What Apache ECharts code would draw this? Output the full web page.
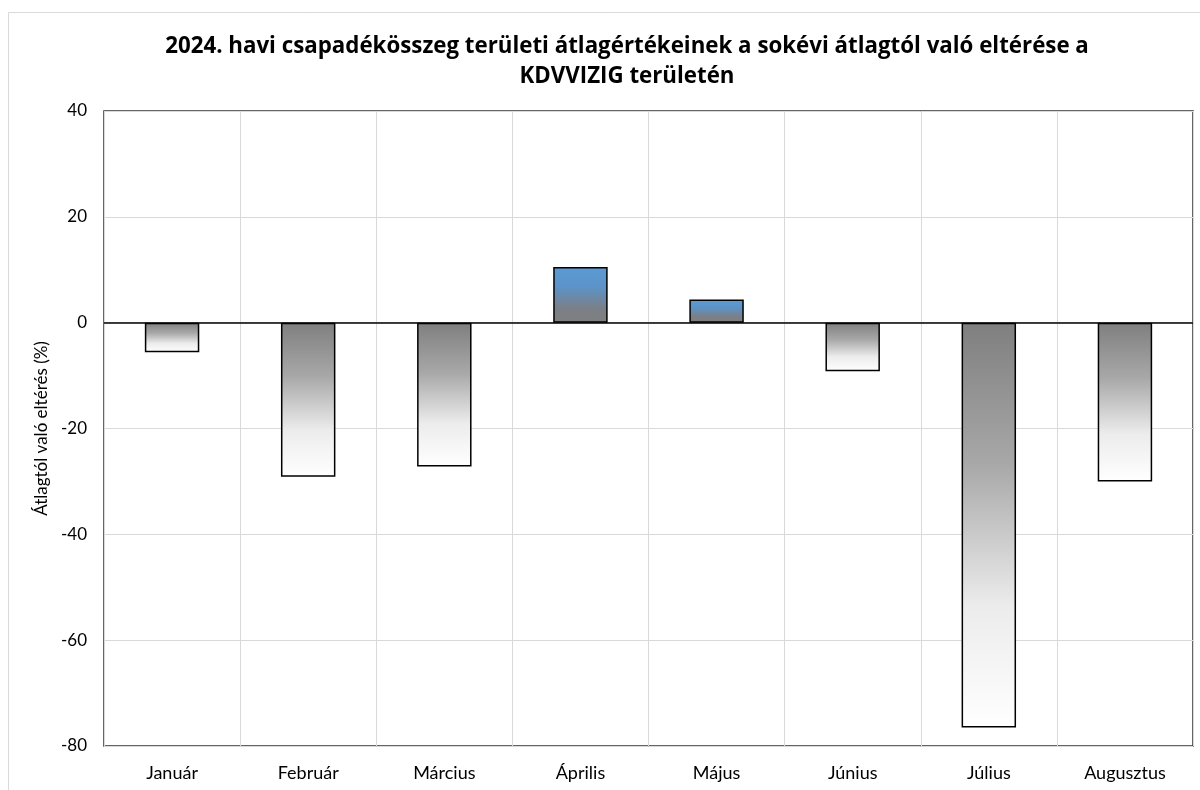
<!DOCTYPE html>
<html><head><meta charset="utf-8">
<script src="https://cdn.jsdelivr.net/npm/echarts@6/dist/echarts.min.js"></script>
<style>html,body{margin:0;padding:0;background:#fff}#c{width:1200px;height:790px}</style>
</head><body><div id="c"></div>
<script>
const categories = ['Január','Február','Március','Április','Május','Június','Július','Augusztus'];
const values = [-5.6, -29.1, -27.2, 10.5, 4.4, -9.2, -76.5, -30.0];
const yTicks = {min: -80, max: 40, interval: 20};
const titleText = '2024. havi csapadékösszeg területi átlagértékeinek a sokévi átlagtól való eltérése a\nKDVVIZIG területén';
const yAxisName = 'Átlagtól való eltérés (%)';

const font = 'Lato, "Open Sans", sans-serif';
const negGrad = new echarts.graphic.LinearGradient(0,0,0,1,[
  {offset:0,color:'#7f7f7f'},{offset:0.35,color:'#a8a8a8'},{offset:0.7,color:'#ececec'},{offset:1,color:'#ffffff'}]);
const posGrad = new echarts.graphic.LinearGradient(0,0,0,1,[
  {offset:0,color:'#5b9bd5'},{offset:0.35,color:'#5c93c8'},{offset:0.75,color:'#7b7f86'},{offset:1,color:'#7f7f7f'}]);

const chart = echarts.init(document.getElementById('c'), null, {renderer:'canvas'});
chart.setOption({
  backgroundColor:'#fff',
  animation:false,
  title:{text:titleText,left:622,textAlign:'center',top:27,
    textStyle:{fontFamily:'"Open Sans", Lato, sans-serif',fontWeight:'bold',fontSize:22.3,color:'#000',lineHeight:30}},
  graphic:[{type:'rect',shape:{x:8.5,y:12.5,width:1200,height:800},style:{fill:'none',stroke:'#d9d9d9',lineWidth:1},z:-10}],
  grid:{left:104,right:7,top:111,bottom:44,show:true,borderColor:'#333',borderWidth:1.5,backgroundColor:'transparent'},
  xAxis:{type:'category',data:categories,position:'bottom',
    axisLine:{show:false},axisTick:{show:false},
    splitLine:{show:true,lineStyle:{color:'#d9d9d9',width:1}},
    axisLabel:{fontFamily:font,fontSize:18,color:'#000',margin:18,interval:0}},
  yAxis:{type:'value',min:yTicks.min,max:yTicks.max,interval:yTicks.interval,
    name:yAxisName,nameLocation:'middle',nameGap:52,nameRotate:90,
    nameTextStyle:{fontFamily:font,fontSize:17,color:'#000'},
    axisLine:{show:false},axisTick:{show:false},
    splitLine:{lineStyle:{color:'#d9d9d9',width:1}},
    axisLabel:{fontFamily:font,fontSize:17,color:'#000',margin:17}},
  series:[{type:'bar',barWidth:'40%',
    data:values.map(v=>({value:v,itemStyle:{color:v<0?negGrad:posGrad}})),
    itemStyle:{borderColor:'#000',borderWidth:1.5},
    markLine:{silent:true,symbol:'none',label:{show:false},
      lineStyle:{color:'#000',width:1.5,type:'solid'},data:[{yAxis:0}]}
  }]
});
</script></body></html>
